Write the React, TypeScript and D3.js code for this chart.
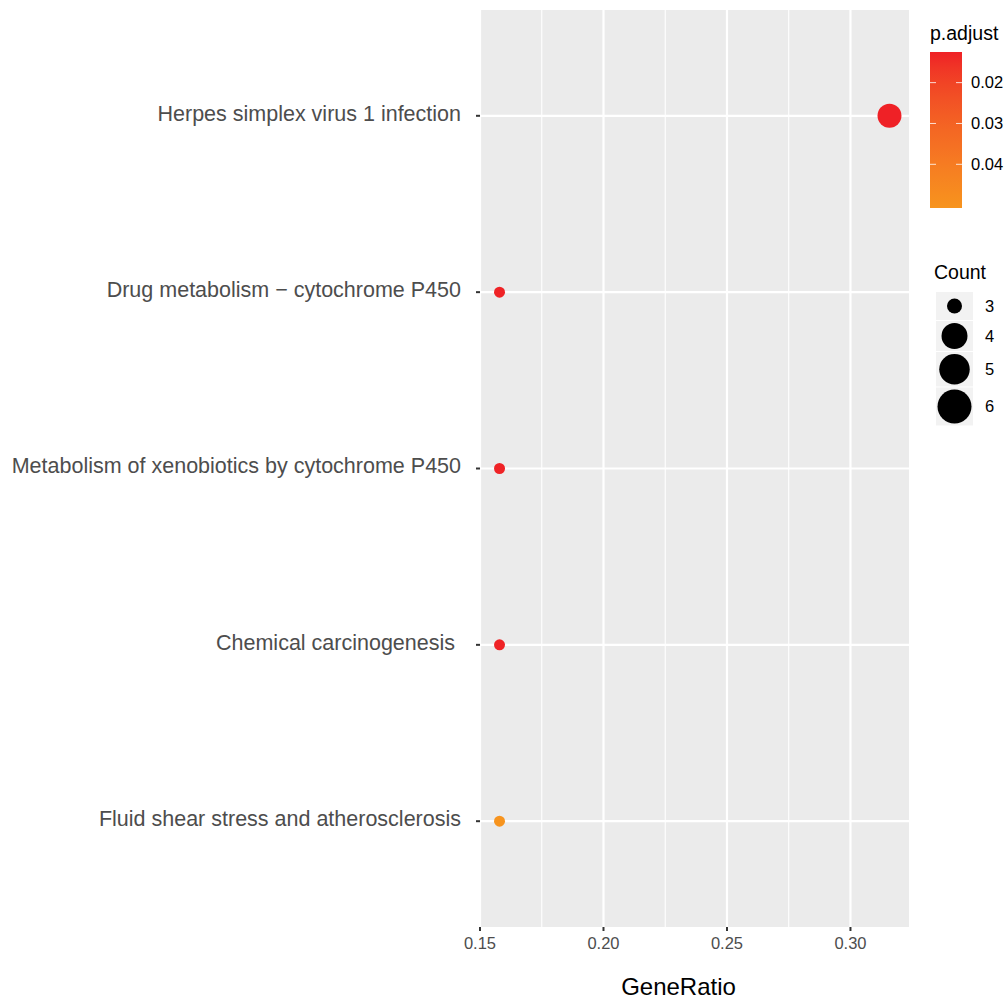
import React from 'react'
import * as d3 from 'd3'

const categories = [
  'Herpes simplex virus 1 infection',
  'Drug metabolism \u2212 cytochrome P450',
  'Metabolism of xenobiotics by cytochrome P450',
  'Chemical carcinogenesis ',
  'Fluid shear stress and atherosclerosis',
]
const geneRatio = [0.3158, 0.1579, 0.1579, 0.1579, 0.1579]
const counts = [6, 3, 3, 3, 3]
const pAdjust = [0.0125, 0.0128, 0.0128, 0.0128, 0.0507]

const xTicks = [0.15, 0.2, 0.25, 0.3]
const xMinor = [0.175, 0.225, 0.275]
const colorTicks = [0.02, 0.03, 0.04]
const sizeBreaks = [3, 4, 5, 6]

const FONT = '"Liberation Sans", Arial, Helvetica, sans-serif'
const LOW = '#EF2126'
const HIGH = '#F7941E'

const panel = { left: 480, right: 909, top: 10, bottom: 927 }

// ggplot area_pal: rescale to 0..1, sqrt, map to range
const sizeScale = (v: number, rMin: number, rMax: number) => {
  const t = (v - 3) / (6 - 3)
  return rMin + Math.sqrt(t) * (rMax - rMin)
}

export default function App() {
  const x = d3.scaleLinear().domain([0.15, 0.3237]).range([panel.left, panel.right])
  const y = d3.scalePoint<string>().domain(categories).range([panel.top, panel.bottom]).padding(0.6)
  const pMin = d3.min(pAdjust) as number
  const pMax = d3.max(pAdjust) as number
  const color = d3.scaleLinear<string>().domain([pMin, pMax]).range([LOW, HIGH]).interpolate(d3.interpolateLab)

  // colourbar
  const bar = { x: 930, y: 52, w: 32, h: 156 }
  const barY = d3.scaleLinear().domain([pMin, pMax]).range([bar.y, bar.y + bar.h])
  const stops = d3.range(0, 1.0001, 0.1)

  // size legend
  let keyY = 292
  const keys = sizeBreaks.map((b) => {
    const r = sizeScale(b, 7.5, 17)
    const h = Math.max(28, 2 * r + 4)
    const k = { b, r, top: keyY, h }
    keyY += h + 1
    return k
  })

  return (
    <svg width={1007} height={1003} style={{ position: 'absolute', left: 0, top: 0 }} fontFamily={FONT}>
      <rect width={1007} height={1003} fill="#fff" />
      <rect x={panel.left} y={panel.top} width={panel.right - panel.left} height={panel.bottom - panel.top} fill="#EBEBEB" />
      {xMinor.map((t) => (
        <line key={'mn' + t} x1={x(t)} x2={x(t)} y1={panel.top} y2={panel.bottom} stroke="#fff" strokeWidth={1.1} />
      ))}
      {xTicks.map((t) => (
        <line key={'mj' + t} x1={x(t)} x2={x(t)} y1={panel.top} y2={panel.bottom} stroke="#fff" strokeWidth={2.2} />
      ))}
      {categories.map((c) => (
        <line key={'gy' + c} x1={panel.left} x2={panel.right} y1={y(c)} y2={y(c)} stroke="#fff" strokeWidth={2.2} />
      ))}

      {categories.map((c, i) => (
        <circle key={'pt' + c} cx={x(geneRatio[i])} cy={y(c)} r={sizeScale(counts[i], 5.5, 12)} fill={color(pAdjust[i])} />
      ))}

      {/* y axis */}
      {categories.map((c) => (
        <g key={'ya' + c}>
          <line x1={panel.left - 4} x2={panel.left} y1={y(c)} y2={y(c)} stroke="#333" strokeWidth={2} />
          <text x={panel.left - 19} y={y(c)} dy="0.22em" textAnchor="end" fontSize={21.5} fill="#4D4D4D" style={{ whiteSpace: 'pre' }}>
            {c}
          </text>
        </g>
      ))}

      {/* x axis */}
      {xTicks.map((t) => (
        <g key={'xa' + t}>
          <line x1={x(t)} x2={x(t)} y1={panel.bottom} y2={panel.bottom + 4} stroke="#333" strokeWidth={2} />
          <text x={x(t)} y={949} textAnchor="middle" fontSize={16.5} fill="#4D4D4D">
            {t.toFixed(2)}
          </text>
        </g>
      ))}
      <text x={678.5} y={995} textAnchor="middle" fontSize={24} fill="#000">
        GeneRatio
      </text>

      {/* p.adjust legend */}
      <text x={930} y={40} fontSize={19.5} fill="#000">p.adjust</text>
      <defs>
        <linearGradient id="pgrad" x1="0" y1="0" x2="0" y2="1">
          {stops.map((s) => (
            <stop key={s} offset={s} stopColor={color(pMin + s * (pMax - pMin))} />
          ))}
        </linearGradient>
      </defs>
      <rect x={bar.x} y={bar.y} width={bar.w} height={bar.h} fill="url(#pgrad)" />
      {colorTicks.map((t) => (
        <g key={'ct' + t}>
          <line x1={bar.x} x2={bar.x + 6} y1={barY(t)} y2={barY(t)} stroke="#fff" strokeOpacity={0.8} strokeWidth={1} />
          <line x1={bar.x + bar.w - 6} x2={bar.x + bar.w} y1={barY(t)} y2={barY(t)} stroke="#fff" strokeOpacity={0.8} strokeWidth={1} />
          <text x={971} y={barY(t)} dy="0.35em" fontSize={16.5} fill="#000">
            {t.toFixed(2)}
          </text>
        </g>
      ))}

      {/* Count legend */}
      <text x={934} y={279} fontSize={19.5} fill="#000">Count</text>
      {keys.map((k) => (
        <g key={'sk' + k.b}>
          <rect x={936} y={k.top} width={37} height={k.h} fill="#F2F2F2" />
          <circle cx={954.5} cy={k.top + k.h / 2} r={k.r} fill="#000" />
          <text x={985} y={k.top + k.h / 2} dy="0.35em" fontSize={16.5} fill="#000">
            {k.b}
          </text>
        </g>
      ))}
    </svg>
  )
}
